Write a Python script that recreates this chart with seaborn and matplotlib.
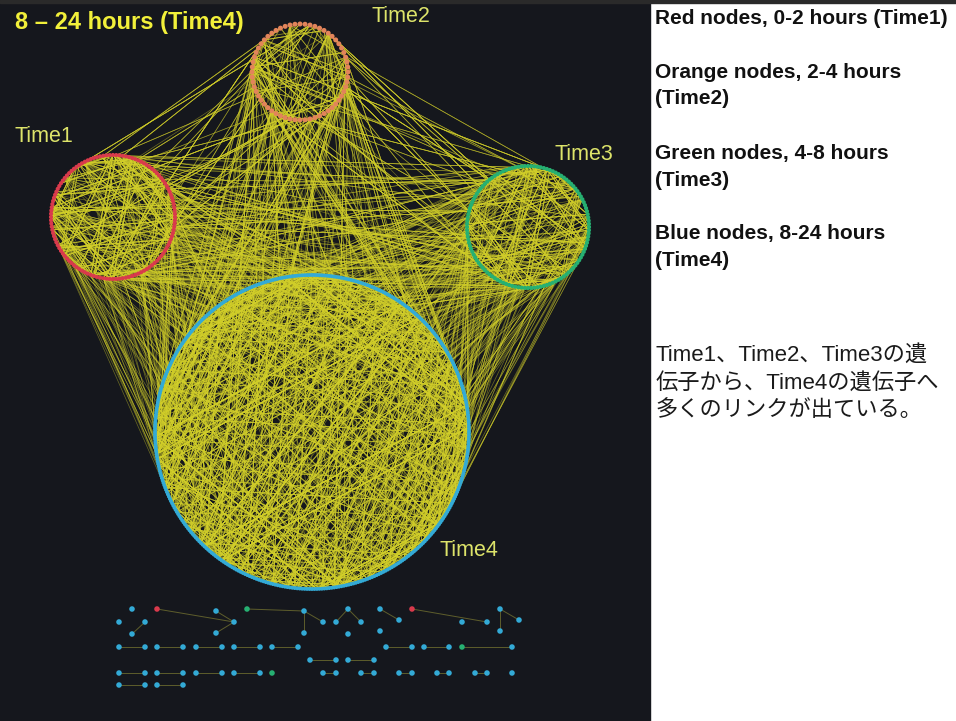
# Gene network, Time1..Time4 circles
import numpy as np
import pandas as pd
import matplotlib
matplotlib.use('Agg')
import matplotlib.pyplot as plt
from matplotlib.collections import LineCollection
import seaborn as sns

sns.set_style("dark")
plt.rcParams['font.family'] = ['Liberation Sans', 'Noto Sans CJK JP', 'DejaVu Sans']

# Data
groups = ['Time1', 'Time2', 'Time3', 'Time4']
node_counts = [120, 60, 120, 400]
within_edges = [240, 70, 200, 950]

pair_a = ['Time1', 'Time1', 'Time1', 'Time2', 'Time2', 'Time3']
pair_b = ['Time2', 'Time3', 'Time4', 'Time3', 'Time4', 'Time4']
pair_counts = [100, 140, 380, 100, 300, 380]

# small components under the big circles
mini_x = [132, 157, 216, 247, 304, 348, 380, 412, 500, 119, 145, 234, 323, 336, 361, 399, 462, 487, 519,
          132, 216, 304, 348, 380, 500,
          119, 145, 157, 183, 196, 222, 234, 260, 272, 298, 386, 412, 424, 449, 462, 512,
          310, 336, 348, 374,
          119, 145, 157, 183, 196, 222, 234, 260, 272, 323, 336, 361, 374, 399, 412, 437, 449, 475, 487, 512,
          119, 145, 157, 183]
mini_y = [609, 609, 611, 609, 611, 609, 609, 609, 609, 622, 622, 622, 622, 622, 622, 620, 622, 622, 620,
          634, 633, 633, 634, 631, 631] + [647] * 16 + [660] * 4 + [673] * 20 + [685] * 4
mini_kind = ['Time4'] * len(mini_x)
for idx in [1, 7]:
    mini_kind[idx] = 'Time1'
for idx in [3, 39, 53]:
    mini_kind[idx] = 'Time3'
mini_edges = [(10, 19), (1, 11), (2, 11), (20, 11), (3, 4), (4, 21), (4, 12), (13, 5), (5, 14), (6, 15),
              (7, 17), (8, 24), (8, 18),
              (25, 26), (27, 28), (29, 30), (31, 32), (33, 34), (35, 36), (37, 38), (39, 40),
              (41, 42), (43, 44),
              (45, 46), (47, 48), (49, 50), (51, 52), (54, 55), (56, 57), (58, 59), (60, 61), (62, 63),
              (65, 66), (67, 68)]

legend_lines = ['Red nodes, 0-2 hours (Time1)', '', 'Orange nodes, 2-4 hours', '(Time2)', '',
                'Green nodes, 4-8 hours', '(Time3)', '', 'Blue nodes, 8-24 hours', '(Time4)']
note_lines = ['Time1、Time2、Time3の遺', '伝子から、Time4の遺伝子へ', '多くのリンクが出ている。']

# Layout / style
centers = {'Time1': (113, 217), 'Time2': (300, 72), 'Time3': (528, 227), 'Time4': (312, 432)}
radii = {'Time1': 62, 'Time2': 48, 'Time3': 61, 'Time4': 157}
node_colors = {'Time1': '#d93a4c', 'Time2': '#e2845a', 'Time3': '#26b072', 'Time4': '#33aad6'}
node_sizes = {'Time1': 9, 'Time2': 13, 'Time3': 9, 'Time4': 8}
edge_color = '#d2cf2a'


def node_xy(g):
    n = node_counts[groups.index(g)]
    t = np.linspace(0, 2 * np.pi, n, endpoint=False)
    cx, cy = centers[g]
    r = radii[g]
    return cx + r * np.cos(t), cy + r * np.sin(t)


pos = {g: node_xy(g) for g in groups}

# endpoints: fixed scrambled index pattern (individual links can't be read off the picture)
segs = []
for g, m in zip(groups, within_edges):
    n = node_counts[groups.index(g)]
    xs, ys = pos[g]
    for k in range(1, m + 1):
        i = (k * k * 37 + k * 11) % n
        j = (k * k * 53 + k * 29 + 7) % n
        if i != j:
            segs.append([(xs[i], ys[i]), (xs[j], ys[j])])
inter = []
for a, b, m in zip(pair_a, pair_b, pair_counts):
    na, nb = node_counts[groups.index(a)], node_counts[groups.index(b)]
    xa, ya = pos[a]
    xb, yb = pos[b]
    for k in range(1, m + 1):
        i = (k * k * 41 + k * 17 + 3) % na
        j = (k * k * 59 + k * 23 + 5) % nb
        inter.append([(xa[i], ya[i]), (xb[j], yb[j])])

nodes = pd.concat([pd.DataFrame({'x': pos[g][0], 'y': pos[g][1], 'group': g}) for g in groups],
                  ignore_index=True)
mini = pd.DataFrame({'x': mini_x, 'y': mini_y, 'group': mini_kind})

fig = plt.figure(figsize=(9.56, 7.21), dpi=100)
fig.patch.set_facecolor('white')
ax = fig.add_axes([0, 0, 1, 1])

# dark panel and top rule
ax.add_patch(plt.Rectangle((0, 0), 650, 721, color='#15171d', zorder=0))
ax.add_patch(plt.Rectangle((0, 0), 956, 3, color='#2a2a2a', zorder=0))

ax.add_collection(LineCollection(inter, colors=edge_color, linewidths=0.5, alpha=0.45, zorder=1))
ax.add_collection(LineCollection(segs, colors=edge_color, linewidths=0.6, alpha=0.6, zorder=1))
ax.add_collection(LineCollection([[(mini_x[i], mini_y[i]), (mini_x[j], mini_y[j])] for i, j in mini_edges],
                                 colors='#5e5e2c', linewidths=0.7, zorder=1))

sns.scatterplot(data=nodes, x='x', y='y', hue='group', palette=node_colors, size='group',
                sizes=node_sizes, linewidth=0, legend=False, ax=ax, zorder=3)
sns.scatterplot(data=mini, x='x', y='y', hue='group', palette=node_colors, s=16,
                linewidth=0, legend=False, ax=ax, zorder=3)
ax.set_xlim(0, 956)
ax.set_ylim(721, 0)
ax.axis('off')

# texts on the dark panel
ax.text(15, 23, '8 – 24 hours (Time4)', fontsize=17, fontweight='bold', color='#f2f03a', va='center')
lab_col = '#dde46a'
ax.text(15, 137, 'Time1', fontsize=15.5, color=lab_col, va='center')
ax.text(372, 17, 'Time2', fontsize=15.5, color=lab_col, va='center')
ax.text(555, 155, 'Time3', fontsize=15.5, color=lab_col, va='center')
ax.text(440, 550, 'Time4', fontsize=15.5, color=lab_col, va='center')

# right side text
for k, s in enumerate(legend_lines):
    if s:
        ax.text(655, 18 + 27 * k, s, fontsize=15, fontweight='bold', color='#111111', va='center')
for k, s in enumerate(note_lines):
    ax.text(656, 355 + 28 * k, s, fontsize=16, color='#1a1a1a', va='center')

fig.savefig('out.png', dpi=100)
